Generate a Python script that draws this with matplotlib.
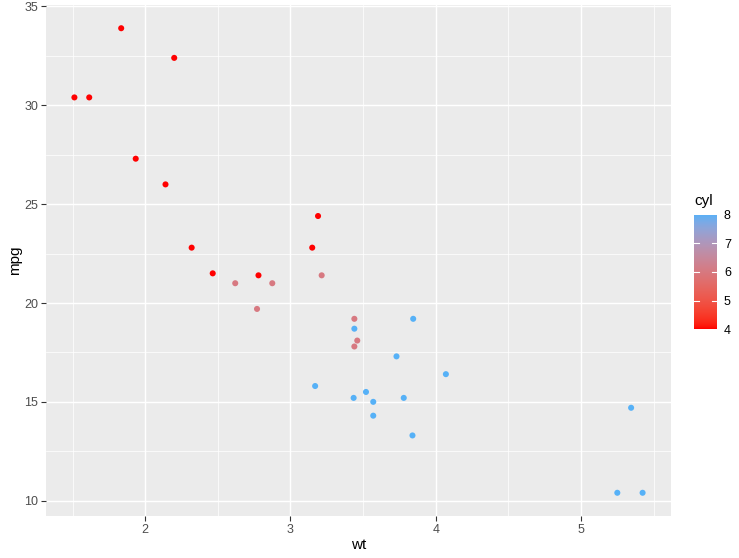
import numpy as np
import matplotlib
matplotlib.use("Agg")
import matplotlib.pyplot as plt
from matplotlib.colors import ListedColormap, Normalize

plt.rcParams['font.family'] = ['Liberation Sans', 'DejaVu Sans']

wt = [2.620, 2.875, 2.320, 3.215, 3.440, 3.460, 3.570, 3.190, 3.150, 3.440, 3.440,
      4.070, 3.730, 3.780, 5.250, 5.424, 5.345, 2.200, 1.615, 1.835, 2.465, 3.520,
      3.435, 3.840, 3.845, 1.935, 2.140, 1.513, 3.170, 2.770, 3.570, 2.780]
mpg = [21.0, 21.0, 22.8, 21.4, 18.7, 18.1, 14.3, 24.4, 22.8, 19.2, 17.8,
       16.4, 17.3, 15.2, 10.4, 10.4, 14.7, 32.4, 30.4, 33.9, 21.5, 15.5,
       15.2, 13.3, 19.2, 27.3, 26.0, 30.4, 15.8, 19.7, 15.0, 21.4]
cyl = [6, 6, 4, 6, 8, 6, 8, 4, 4, 6, 6,
       8, 8, 8, 8, 8, 8, 4, 4, 4, 4, 8,
       8, 8, 8, 4, 4, 4, 8, 6, 8, 4]

x_ticks = [2, 3, 4, 5]
y_ticks = [10, 15, 20, 25, 30, 35]
cbar_ticks = [4, 5, 6, 7, 8]

# Lab interpolation between red and #56B1F7
def srgb_to_lin(c):
    c = np.asarray(c, float)
    return np.where(c <= 0.04045, c / 12.92, ((c + 0.055) / 1.055) ** 2.4)

def lin_to_srgb(c):
    c = np.clip(c, 0, 1)
    return np.where(c <= 0.0031308, 12.92 * c, 1.055 * c ** (1 / 2.4) - 0.055)

M = np.array([[0.4124, 0.3576, 0.1805], [0.2126, 0.7152, 0.0722], [0.0193, 0.1192, 0.9505]])
Minv = np.linalg.inv(M)
wp = np.array([0.95047, 1.0, 1.08883])

def f(t):
    d = 6 / 29
    return np.where(t > d ** 3, np.cbrt(t), t / (3 * d * d) + 4 / 29)

def finv(t):
    d = 6 / 29
    return np.where(t > d, t ** 3, 3 * d * d * (t - 4 / 29))

def rgb_to_lab(rgb):
    xyz = M @ srgb_to_lin(rgb) / wp
    fx, fy, fz = f(xyz)
    return np.array([116 * fy - 16, 500 * (fx - fy), 200 * (fy - fz)])

def lab_to_rgb(lab):
    L, a, b = lab
    fy = (L + 16) / 116
    fx = fy + a / 500
    fz = fy - b / 200
    xyz = np.array([finv(fx), finv(fy), finv(fz)]) * wp
    return lin_to_srgb(Minv @ xyz)

lo = rgb_to_lab([1.0, 0.0, 0.0])
hi = rgb_to_lab(np.array([0x56, 0xB1, 0xF7]) / 255)
cols = [lab_to_rgb(lo + (hi - lo) * t) for t in np.linspace(0, 1, 256)]
cmap = ListedColormap(cols)

W, H = 739, 558
fig = plt.figure(figsize=(W / 100, H / 100), dpi=100)
ax = fig.add_axes([46 / W, 1 - 516 / H, (671 - 46) / W, (516 - 5) / H])
ax.set_facecolor("#EBEBEB")
for s in ax.spines.values():
    s.set_visible(False)

xr = max(wt) - min(wt)
yr = max(mpg) - min(mpg)
ax.set_xlim(min(wt) - 0.05 * xr, max(wt) + 0.05 * xr)
ax.set_ylim(min(mpg) - 0.05 * yr, max(mpg) + 0.05 * yr)

ax.set_xticks(x_ticks)
ax.set_yticks(y_ticks)
ax.set_xticks([1.5, 2.5, 3.5, 4.5, 5.5], minor=True)
ax.set_yticks([12.5, 17.5, 22.5, 27.5, 32.5], minor=True)
ax.grid(True, which="major", color="white", lw=1.07)
ax.grid(True, which="minor", color="white", lw=0.53)
ax.set_axisbelow(True)
ax.tick_params(which="major", length=3.5, width=0.8, color="#333333",
               labelsize=9, labelcolor="#4D4D4D", pad=2)
ax.tick_params(which="minor", length=0)

norm = Normalize(4, 8)
sc = ax.scatter(wt, mpg, c=cyl, cmap=cmap, norm=norm, s=19, linewidths=0, zorder=3)

ax.set_xlabel("wt", fontsize=11, color="black", labelpad=2)
ax.set_ylabel("mpg", fontsize=11, color="black", labelpad=2)

# colorbar
cax = fig.add_axes([694 / W, 1 - 329 / H, (717 - 694) / W, (329 - 215) / H])
grad = np.linspace(4, 8, 256).reshape(-1, 1)
cax.imshow(grad, aspect="auto", cmap=cmap, norm=norm, origin="lower", extent=[0, 1, 4, 8])
cax.set_xlim(0, 1)
cax.set_ylim(4, 8)
for s in cax.spines.values():
    s.set_visible(False)
cax.set_xticks([])
cax.yaxis.tick_right()
cax.set_yticks(cbar_ticks)
cax.tick_params(axis="y", length=0, labelsize=9, labelcolor="black", pad=5)
for v in cbar_ticks[1:-1]:
    cax.plot([0, 0.2], [v, v], color="white", lw=0.8)
    cax.plot([0.8, 1], [v, v], color="white", lw=0.8)
fig.text(694 / W, 1 - 201 / H, "cyl", fontsize=11, va="center", ha="left")

fig.savefig("out.png", dpi=100)
